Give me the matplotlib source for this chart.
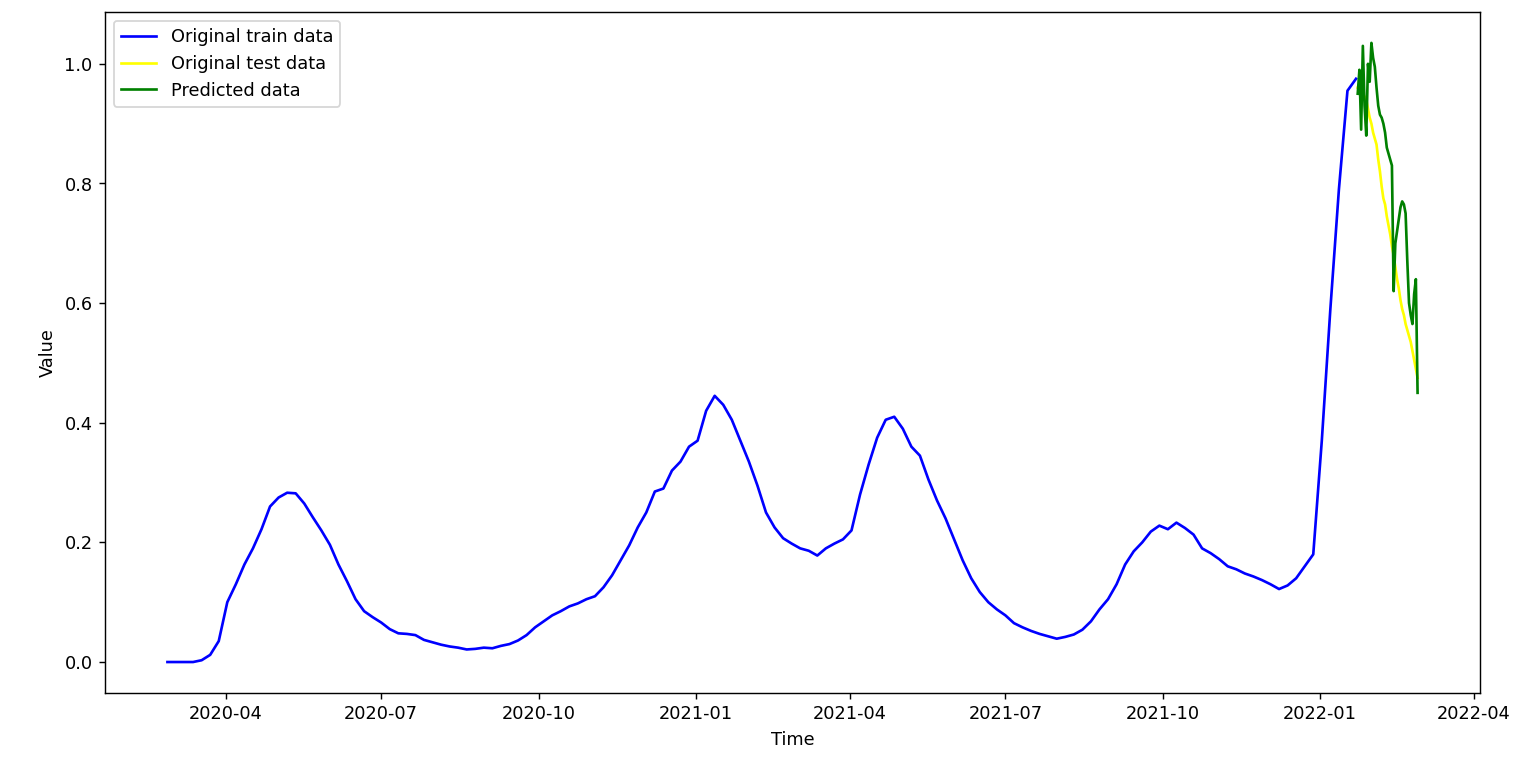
import matplotlib
matplotlib.use("Agg")
import matplotlib.pyplot as plt
import pandas as pd

# Training series: one reading every 5 days, 2020-02-27 .. 2022-01-22
train_start = "2020-02-27"
train_step_days = 5
train_values = [
    0.000, 0.000, 0.000, 0.000, 0.003, 0.012, 0.035, 0.100, 0.130, 0.163,
    0.190, 0.222, 0.260, 0.275, 0.283, 0.282, 0.265, 0.242, 0.220, 0.196,
    0.163, 0.135, 0.105, 0.085, 0.075, 0.066, 0.055, 0.048, 0.047, 0.045,
    0.037, 0.033, 0.029, 0.026, 0.024, 0.021, 0.022, 0.024, 0.023, 0.027,
    0.030, 0.036, 0.045, 0.058, 0.068, 0.078, 0.085, 0.093, 0.098, 0.105,
    0.110, 0.125, 0.145, 0.170, 0.195, 0.225, 0.250, 0.285, 0.290, 0.320,
    0.335, 0.360, 0.370, 0.420, 0.445, 0.430, 0.405, 0.370, 0.335, 0.295,
    0.250, 0.225, 0.207, 0.198, 0.190, 0.186, 0.178, 0.190, 0.198, 0.205,
    0.220, 0.280, 0.330, 0.375, 0.405, 0.410, 0.390, 0.360, 0.345, 0.305,
    0.270, 0.240, 0.205, 0.170, 0.140, 0.117, 0.100, 0.088, 0.078, 0.065,
    0.058, 0.052, 0.047, 0.043, 0.039, 0.042, 0.046, 0.054, 0.068, 0.088,
    0.105, 0.130, 0.163, 0.185, 0.200, 0.218, 0.228, 0.222, 0.233, 0.224,
    0.213, 0.190, 0.182, 0.172, 0.160, 0.155, 0.148, 0.143, 0.137, 0.130,
    0.122, 0.128, 0.140, 0.160, 0.180, 0.370, 0.590, 0.790, 0.955, 0.975,
]

# Test period: daily readings, 2022-01-23 .. 2022-02-27
test_start = "2022-01-23"
test_values = [
    0.960, 0.960, 0.955, 0.950, 0.945, 0.940, 0.925, 0.910, 0.900, 0.885,
    0.875, 0.865, 0.840, 0.820, 0.795, 0.775, 0.765, 0.745, 0.730, 0.715,
    0.695, 0.680, 0.660, 0.640, 0.625, 0.605, 0.590, 0.580, 0.565, 0.555,
    0.545, 0.535, 0.520, 0.505, 0.490, 0.475,
]
predicted_values = [
    0.950, 0.990, 0.890, 1.030, 0.930, 0.880, 1.000, 0.970, 1.035, 1.010,
    0.995, 0.960, 0.930, 0.915, 0.910, 0.900, 0.885, 0.860, 0.850, 0.840,
    0.830, 0.620, 0.700, 0.720, 0.740, 0.760, 0.770, 0.765, 0.750, 0.670,
    0.600, 0.580, 0.565, 0.615, 0.640, 0.450,
]

train_dates = pd.date_range(train_start, periods=len(train_values),
                            freq=f"{train_step_days}D")
test_dates = pd.date_range(test_start, periods=len(test_values), freq="D")

fig, ax = plt.subplots(figsize=(12, 6), dpi=127.84)
fig.subplots_adjust(left=0.0684, right=0.9648, top=0.9844, bottom=0.0965)

ax.plot(train_dates, train_values, color="blue", label="Original train data")
ax.plot(test_dates, test_values, color="yellow", label="Original test data")
ax.plot(test_dates, predicted_values, color="green", label="Predicted data")

ax.set_xlabel("Time")
ax.set_ylabel("Value")
ax.legend(loc="upper left")

fig.savefig("out.png", dpi=127.84)
